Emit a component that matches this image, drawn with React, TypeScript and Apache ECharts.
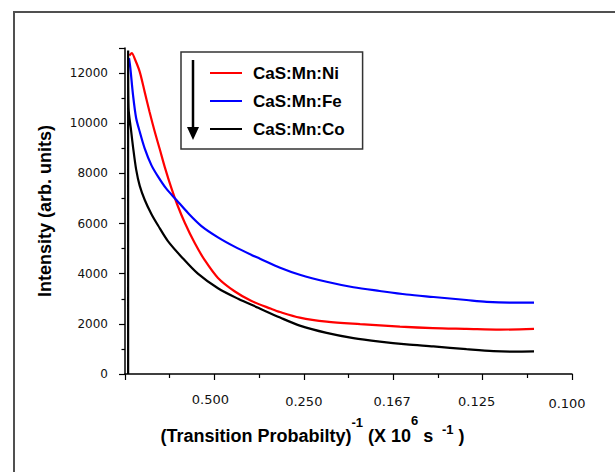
import React, { useEffect, useRef } from "react";
import * as echarts from "echarts";

// time (µs) along x; tick labels show reciprocal (transition probability)^-1
const xTickValues = [2, 4, 6, 8, 10];
const xTickLabels = ["0.500", "0.250", "0.167", "0.125", "0.100"];

const seriesNames = ["CaS:Mn:Ni", "CaS:Mn:Fe", "CaS:Mn:Co"];
const seriesColors = ["#ff0000", "#0000ff", "#000000"];

const niT = [0.1, 0.15, 0.22, 0.33, 0.44, 0.55, 0.66, 0.78, 0.89, 1.04, 1.17, 1.34, 1.56, 1.78, 2.08, 2.45, 2.82, 3.27, 3.47, 3.91, 4.51, 5.26, 6.15, 6.89, 7.64, 8.39, 9.15];
const niV = [12700, 12800, 12560, 12050, 11250, 10450, 9700, 8950, 8250, 7400, 6750, 6020, 5220, 4550, 3830, 3300, 2920, 2600, 2470, 2250, 2090, 1990, 1890, 1830, 1800, 1770, 1800];

const feT = [0.09, 0.12, 0.18, 0.25, 0.33, 0.44, 0.59, 0.74, 0.92, 1.15, 1.41, 1.71, 2.08, 2.45, 2.83, 3.02, 3.47, 3.91, 4.51, 5.11, 5.7, 6.3, 6.9, 7.64, 8.09, 8.6, 9.15];
const feV = [12590, 12190, 11120, 10200, 9660, 9000, 8330, 7870, 7400, 6940, 6420, 5900, 5450, 5080, 4750, 4600, 4240, 3960, 3680, 3460, 3310, 3170, 3070, 2950, 2880, 2850, 2850];

const coT = [0.07, 0.07, 0.08, 0.13, 0.18, 0.25, 0.33, 0.44, 0.59, 0.74, 0.96, 1.26, 1.63, 2.08, 2.53, 2.98, 3.47, 3.91, 4.51, 5.11, 5.7, 6.3, 6.9, 7.64, 8.24, 8.7, 9.15];
const coV = [0, 12900, 10600, 9800, 9050, 8150, 7500, 6950, 6380, 5920, 5300, 4680, 4000, 3420, 3000, 2640, 2250, 1930, 1640, 1430, 1290, 1180, 1100, 990, 910, 890, 900];

const FONT = "'Liberation Sans', Arial, sans-serif";
const TICKFONT = "'DejaVu Sans', sans-serif";

function zip(t: number[], v: number[]) {
  return t.map((x, i) => [x, v[i]]);
}

export default function App() {
  const ref = useRef<HTMLDivElement>(null);
  useEffect(() => {
    document.body.style.margin = "0";
    const chart = echarts.init(ref.current!, null, { renderer: "svg" });
    const datas = [zip(niT, niV), zip(feT, feV), zip(coT, coV)];
    const labelRich: any = {
      l0: { padding: [0, 8, 0, 0] },
      l1: { padding: [5, 0, 0, 0] },
      l2: { padding: [5, 2, 0, 0] },
      l3: { padding: [4, 12, 0, 0] },
      l4: { padding: [8, 10, 0, 0] },
    };
    const main = { fontFamily: FONT, fontSize: 18, fontWeight: "bold", color: "#000", lineHeight: 20, verticalAlign: "bottom" };
    const sup = { fontFamily: FONT, fontSize: 13, fontWeight: "bold", color: "#000", lineHeight: 14, verticalAlign: "bottom" };
    chart.setOption({
      animation: false,
      backgroundColor: "#ffffff",
      grid: { left: 125, right: 43, top: 48, bottom: 98 },
      legend: {
        data: seriesNames,
        orient: "vertical",
        left: 181,
        top: 52,
        padding: [11, 18, 10, 29],
        itemGap: 8,
        itemWidth: 32,
        itemHeight: 2,
        icon: "rect",
        borderColor: "#333",
        borderWidth: 1.5,
        textStyle: { fontFamily: FONT, fontSize: 17, fontWeight: "bold", color: "#000", lineHeight: 20, padding: [0, 0, 0, 6] },
      },
      xAxis: {
        type: "value",
        min: 0,
        max: 10,
        interval: 2,
        name: "{m|(Transition Probabilty)}{s1|-1}{m| (X 10}{s2|6}{m| s }{s3| -1}{m| )}",
        nameLocation: "middle",
        nameGap: 44,
        nameTextStyle: {
          padding: [0, 72, 0, 0],
          rich: {
            m: main,
            s1: { ...sup, padding: [0, 0, 16, 0] },
            s2: { ...sup, padding: [0, 0, 18, 0] },
            s3: { ...sup, padding: [0, 0, 9, 0] },
          },
        },
        axisLine: { lineStyle: { color: "#000", width: 1.5 } },
        axisTick: { show: true, length: 6, lineStyle: { color: "#000", width: 1.2 } },
        minorTick: { show: true, splitNumber: 2, length: 4, lineStyle: { color: "#000", width: 1.2 } },
        splitLine: { show: false },
        axisLabel: {
          margin: 18,
          fontFamily: TICKFONT,
          fontSize: 13,
          color: "#111",
          lineHeight: 14,
          rich: labelRich,
          formatter: (v: number) => {
            const i = xTickValues.indexOf(v);
            return i < 0 ? "" : `{l${i}|${xTickLabels[i]}}`;
          },
        },
      },
      yAxis: {
        type: "value",
        min: 0,
        max: 13000,
        interval: 2000,
        name: "Intensity (arb. units)",
        nameLocation: "middle",
        nameGap: 70,
        nameTextStyle: { fontFamily: FONT, fontSize: 18, fontWeight: "bold", color: "#000", lineHeight: 20 },
        axisLine: { show: true, lineStyle: { color: "#000", width: 1.5 } },
        axisTick: { show: true, length: 6, lineStyle: { color: "#000", width: 1.2 } },
        minorTick: { show: true, splitNumber: 2, length: 3.5, lineStyle: { color: "#000", width: 1.2 } },
        splitLine: { show: false },
        axisLabel: {
          margin: 17,
          fontFamily: TICKFONT,
          fontSize: 12,
          color: "#111",
          showMaxLabel: false,
          formatter: (v: number) => String(v),
        },
      },
      series: seriesNames.map((name, i) => ({
        name,
        type: "line",
        data: datas[i],
        symbol: "none",
        smooth: 0.3,
        color: seriesColors[i],
        lineStyle: { color: seriesColors[i], width: 2.2 },
        z: 2 + i,
      })),
      graphic: [
        {
          type: "rect",
          shape: { x: 14, y: 12, width: 700, height: 600 },
          style: { fill: "none", stroke: "#505050", lineWidth: 2 },
          silent: true,
        },
        {
          type: "line",
          shape: { x1: 193, y1: 60, x2: 193, y2: 129 },
          style: { stroke: "#000", lineWidth: 2.5 },
          z: 100,
        },
        {
          type: "polygon",
          shape: { points: [[187, 127], [199, 127], [193, 140]] },
          style: { fill: "#000" },
          z: 100,
        },
      ],
    });
    return () => chart.dispose();
  }, []);
  return <div ref={ref} style={{ width: 615, height: 472 }} />;
}
